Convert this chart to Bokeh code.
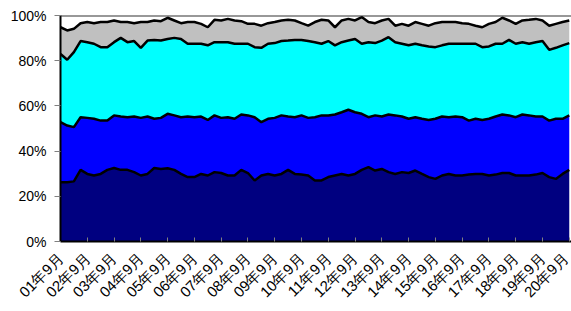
import math
from bokeh.plotting import figure
from bokeh.models import FixedTicker, Span
from bokeh.embed import file_html
from bokeh.resources import INLINE

# month index from 2001-09, every 3 months
months = list(range(0, 229, 3))

# cumulative levels (%) of the four stacked layers
level_navy = [26.2, 26.2, 26.6, 31.7, 29.9, 29.2, 29.9, 31.7, 32.5, 31.7, 31.7, 30.7, 29.2, 29.9, 32.5, 32.1, 32.4, 31.7, 29.9, 28.5,
              28.5, 29.9, 29.2, 30.7, 30.3, 29.2, 29.2, 31.7, 30.3, 27.0, 29.2, 29.9, 29.2, 29.9, 31.7, 29.9, 29.6, 29.2, 27.0,
              27.0, 28.5, 29.2, 29.9, 29.2, 29.9, 31.7, 32.9, 31.4, 32.1, 30.7, 29.9, 30.7, 30.3, 31.4, 29.9, 28.5, 27.7, 29.2, 29.9,
              29.2, 29.2, 29.6, 29.9, 29.9, 29.2, 29.6, 30.3, 30.3, 29.2, 29.2, 29.2, 29.6, 30.3, 28.5, 27.7, 29.9, 31.7]
level_blue = [52.8, 51.3, 50.6, 55.0, 54.7, 54.3, 53.5, 53.5, 55.8, 55.3, 55.0, 55.3, 54.7, 55.3, 54.3, 54.7, 56.5, 55.8, 55.0, 55.3,
              55.0, 55.3, 53.8, 55.8, 54.7, 55.0, 54.3, 56.2, 55.8, 55.0, 52.8, 54.3, 54.7, 55.8, 55.3, 55.0, 55.8, 54.7, 55.0,
              55.8, 55.8, 56.2, 57.2, 58.3, 57.2, 56.5, 55.0, 55.8, 55.3, 56.2, 55.8, 55.3, 54.3, 55.0, 54.3, 53.8, 54.3, 55.3, 55.0,
              55.3, 55.0, 53.5, 54.3, 53.8, 54.3, 55.3, 56.2, 55.8, 55.0, 56.2, 55.8, 55.3, 55.3, 53.5, 54.3, 54.3, 55.8]
level_cyan = [83.0, 80.4, 83.8, 88.7, 88.2, 87.5, 86.0, 86.0, 88.2, 90.1, 88.2, 88.7, 85.7, 88.9, 89.2, 88.9, 89.6, 90.1, 89.6, 87.5,
              87.5, 87.5, 86.8, 88.2, 88.2, 88.2, 87.5, 87.5, 87.5, 86.0, 85.7, 87.5, 87.8, 88.7, 88.9, 89.2, 89.2, 88.7, 88.2,
              87.5, 88.7, 86.8, 88.2, 88.9, 89.6, 87.5, 88.2, 87.8, 88.9, 90.4, 88.2, 87.5, 86.8, 87.5, 86.8, 86.3, 86.0, 86.8, 87.5,
              87.5, 87.5, 87.5, 87.5, 86.0, 86.3, 87.5, 87.5, 89.2, 87.5, 88.2, 87.5, 88.2, 88.7, 84.8, 85.7, 86.8, 87.8]
level_gray = [94.8, 93.4, 94.1, 96.6, 97.1, 96.6, 97.1, 97.1, 97.8, 97.1, 97.1, 96.6, 97.1, 97.1, 97.8, 97.5, 99.0, 97.8, 96.6, 97.1,
              97.1, 96.3, 94.8, 98.1, 97.8, 98.5, 97.8, 97.5, 96.3, 96.3, 95.5, 96.6, 97.1, 97.8, 98.1, 97.8, 96.6, 95.5, 97.1,
              98.1, 97.8, 94.8, 97.8, 98.5, 97.8, 99.3, 97.1, 96.6, 97.8, 98.5, 95.5, 96.3, 95.5, 97.1, 96.3, 95.5, 96.6, 97.1, 97.1,
              97.1, 96.6, 96.3, 95.5, 94.8, 96.3, 97.1, 99.0, 97.8, 96.3, 97.8, 98.1, 98.5, 97.8, 95.5, 96.3, 97.1, 97.8]

tick_months = list(range(0, 229, 12))
tick_labels = ["01年9月", "02年9月", "03年9月", "04年9月", "05年9月", "06年9月", "07年9月",
               "08年9月", "09年9月", "10年9月", "11年9月", "12年9月", "13年9月", "14年9月",
               "15年9月", "16年9月", "17年9月", "18年9月", "19年9月", "20年9月"]
y_ticks = [0, 20, 40, 60, 80, 100]
y_labels = ["0%", "20%", "40%", "60%", "80%", "100%"]

p = figure(width=571, height=311, x_range=(0, 229), y_range=(0, 100),
           output_backend="svg", toolbar_location=None,
           min_border_left=60, min_border_right=0, min_border_top=15, min_border_bottom=70)
p.outline_line_color = None
p.xgrid.visible = False
p.ygrid.visible = False
p.background_fill_color = "white"

zeros = [0] * len(months)
layers = [(zeros, level_navy, "#000080"), (level_navy, level_blue, "#0000FF"),
          (level_blue, level_cyan, "#00FFFF"), (level_cyan, level_gray, "#C0C0C0")]
for lo, hi, col in layers:
    p.varea(x=months, y1=lo, y2=hi, fill_color=col)
for lev in (level_navy, level_blue, level_cyan, level_gray):
    p.line(months, lev, line_color="black", line_width=2.5)

p.add_layout(Span(location=100, dimension="width", line_color="#333333", line_width=2))

xa = p.xaxis[0]
xa.ticker = FixedTicker(ticks=tick_months)
xa.major_label_overrides = {m: l for m, l in zip(tick_months, tick_labels)}
xa.major_label_orientation = math.pi / 4
xa.major_label_text_font = "Liberation Sans"
xa.major_label_text_font_size = "15px"
xa.major_label_text_color = "black"
xa.major_tick_in = 4
xa.major_tick_out = 0
xa.major_tick_line_color = "#808080"
xa.minor_tick_line_color = None
xa.axis_line_color = "black"
xa.axis_line_width = 2
xa.major_label_standoff = 14

ya = p.yaxis[0]
ya.ticker = FixedTicker(ticks=y_ticks)
ya.major_label_overrides = {t: l for t, l in zip(y_ticks, y_labels)}
ya.major_label_text_font = "Liberation Sans"
ya.major_label_text_font_size = "14px"
ya.major_label_text_color = "black"
ya.major_tick_out = 6
ya.major_tick_in = 0
ya.major_tick_line_color = "#808080"
ya.minor_tick_line_color = None
ya.axis_line_color = "black"
ya.axis_line_width = 2
ya.major_label_standoff = 8

open("out.html", "w").write(file_html(p, INLINE))
